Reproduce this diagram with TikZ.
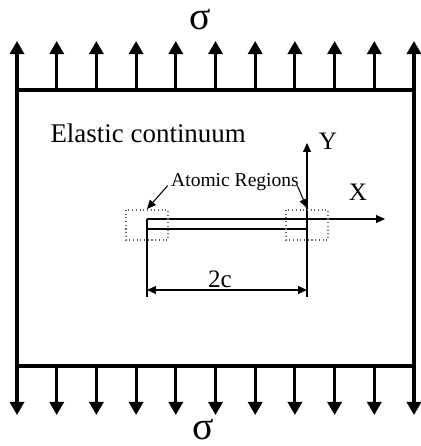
\documentclass[tikz,border=0pt]{standalone}
\usepackage{fontspec}
\setmainfont{Liberation Serif}
\usetikzlibrary{calc, arrows.meta}

\begin{document}
\begin{tikzpicture}[>={Triangle[length=3.4pt,width=3pt]}, x=0.0133cm, y=-0.0133cm]
    \useasboundingbox (0,0) rectangle (421,446);
    \tikzset{load/.style={line width=1.2pt, -{Triangle[length=5pt,width=5.4pt]}},
             atomic/.style={densely dotted, black!60, thin}}

    % Tấm (môi trường đàn hồi)
    \coordinate (tl) at (17,90);
    \coordinate (tr) at (414,90);
    \coordinate (bl) at (17,366);
    \coordinate (br) at (414,366);
    \draw[line width=1.2pt] (tl) rectangle (br);

    % Ứng suất kéo
    \foreach \i in {0,...,10} {
        \coordinate (t\i) at ($(tl)!\i/10!(tr)$);
        \coordinate (b\i) at ($(bl)!\i/10!(br)$);
        \draw[load] (t\i) -- ++(0,-49);
        \draw[load] (b\i) -- ++(0,49);
    }
    \node[inner sep=0pt] (sigTop) at (200,20) {\fontsize{15}{17}\selectfont σ};
    \node[inner sep=0pt] (sigBot) at (203,430) {\fontsize{15}{17}\selectfont σ};

    % Vết nứt và hệ trục
    \coordinate (cl) at (147,219);
    \coordinate (cr) at (307,219);
    \coordinate (cl2) at (147,229);
    \coordinate (cr2) at (307,229);
    \coordinate (xend) at (385,219);
    \coordinate (yend) at (307,143);
    \coordinate (dl) at (147,297);
    \coordinate (dr) at (307,297);
    \draw[->] (cl) -- (xend);
    \draw (cl2) -- (cr2);
    \draw[->] (dr) -- (yend);
    \draw (cl) -- (dl);
    \node (labX) at (358,192) {\fontsize{9.5}{11}\selectfont X};
    \node (labY) at (328,141) {\fontsize{9.5}{11}\selectfont Y};

    % Vùng nguyên tử
    \draw[atomic] (126,210) rectangle (168,240);
    \draw[atomic] (286,210) rectangle (328,240);
    \node[inner sep=0pt, anchor=base] (atomic) at (235,187) {\fontsize{7.4}{9}\selectfont Atomic Regions};
    \coordinate (al) at (147,209);
    \coordinate (ar) at (307,208);
    \draw[->] ($(atomic.west)+(-3,3)$) -- (al);
    \draw[->] ($(atomic.east)+(-2,3)$) -- (ar);

    % Kích thước 2c
    \coordinate (el) at (147,290);
    \coordinate (er) at (307,290);
    \draw[<->] (el) -- (er);
    \node[anchor=base] (dim) at (220,287) {\fontsize{9.5}{11}\selectfont 2c};

    \node[inner sep=0pt, anchor=base west] (elastic) at (50,143) {\fontsize{10.2}{12}\selectfont Elastic continuum};
\end{tikzpicture}
\end{document}
